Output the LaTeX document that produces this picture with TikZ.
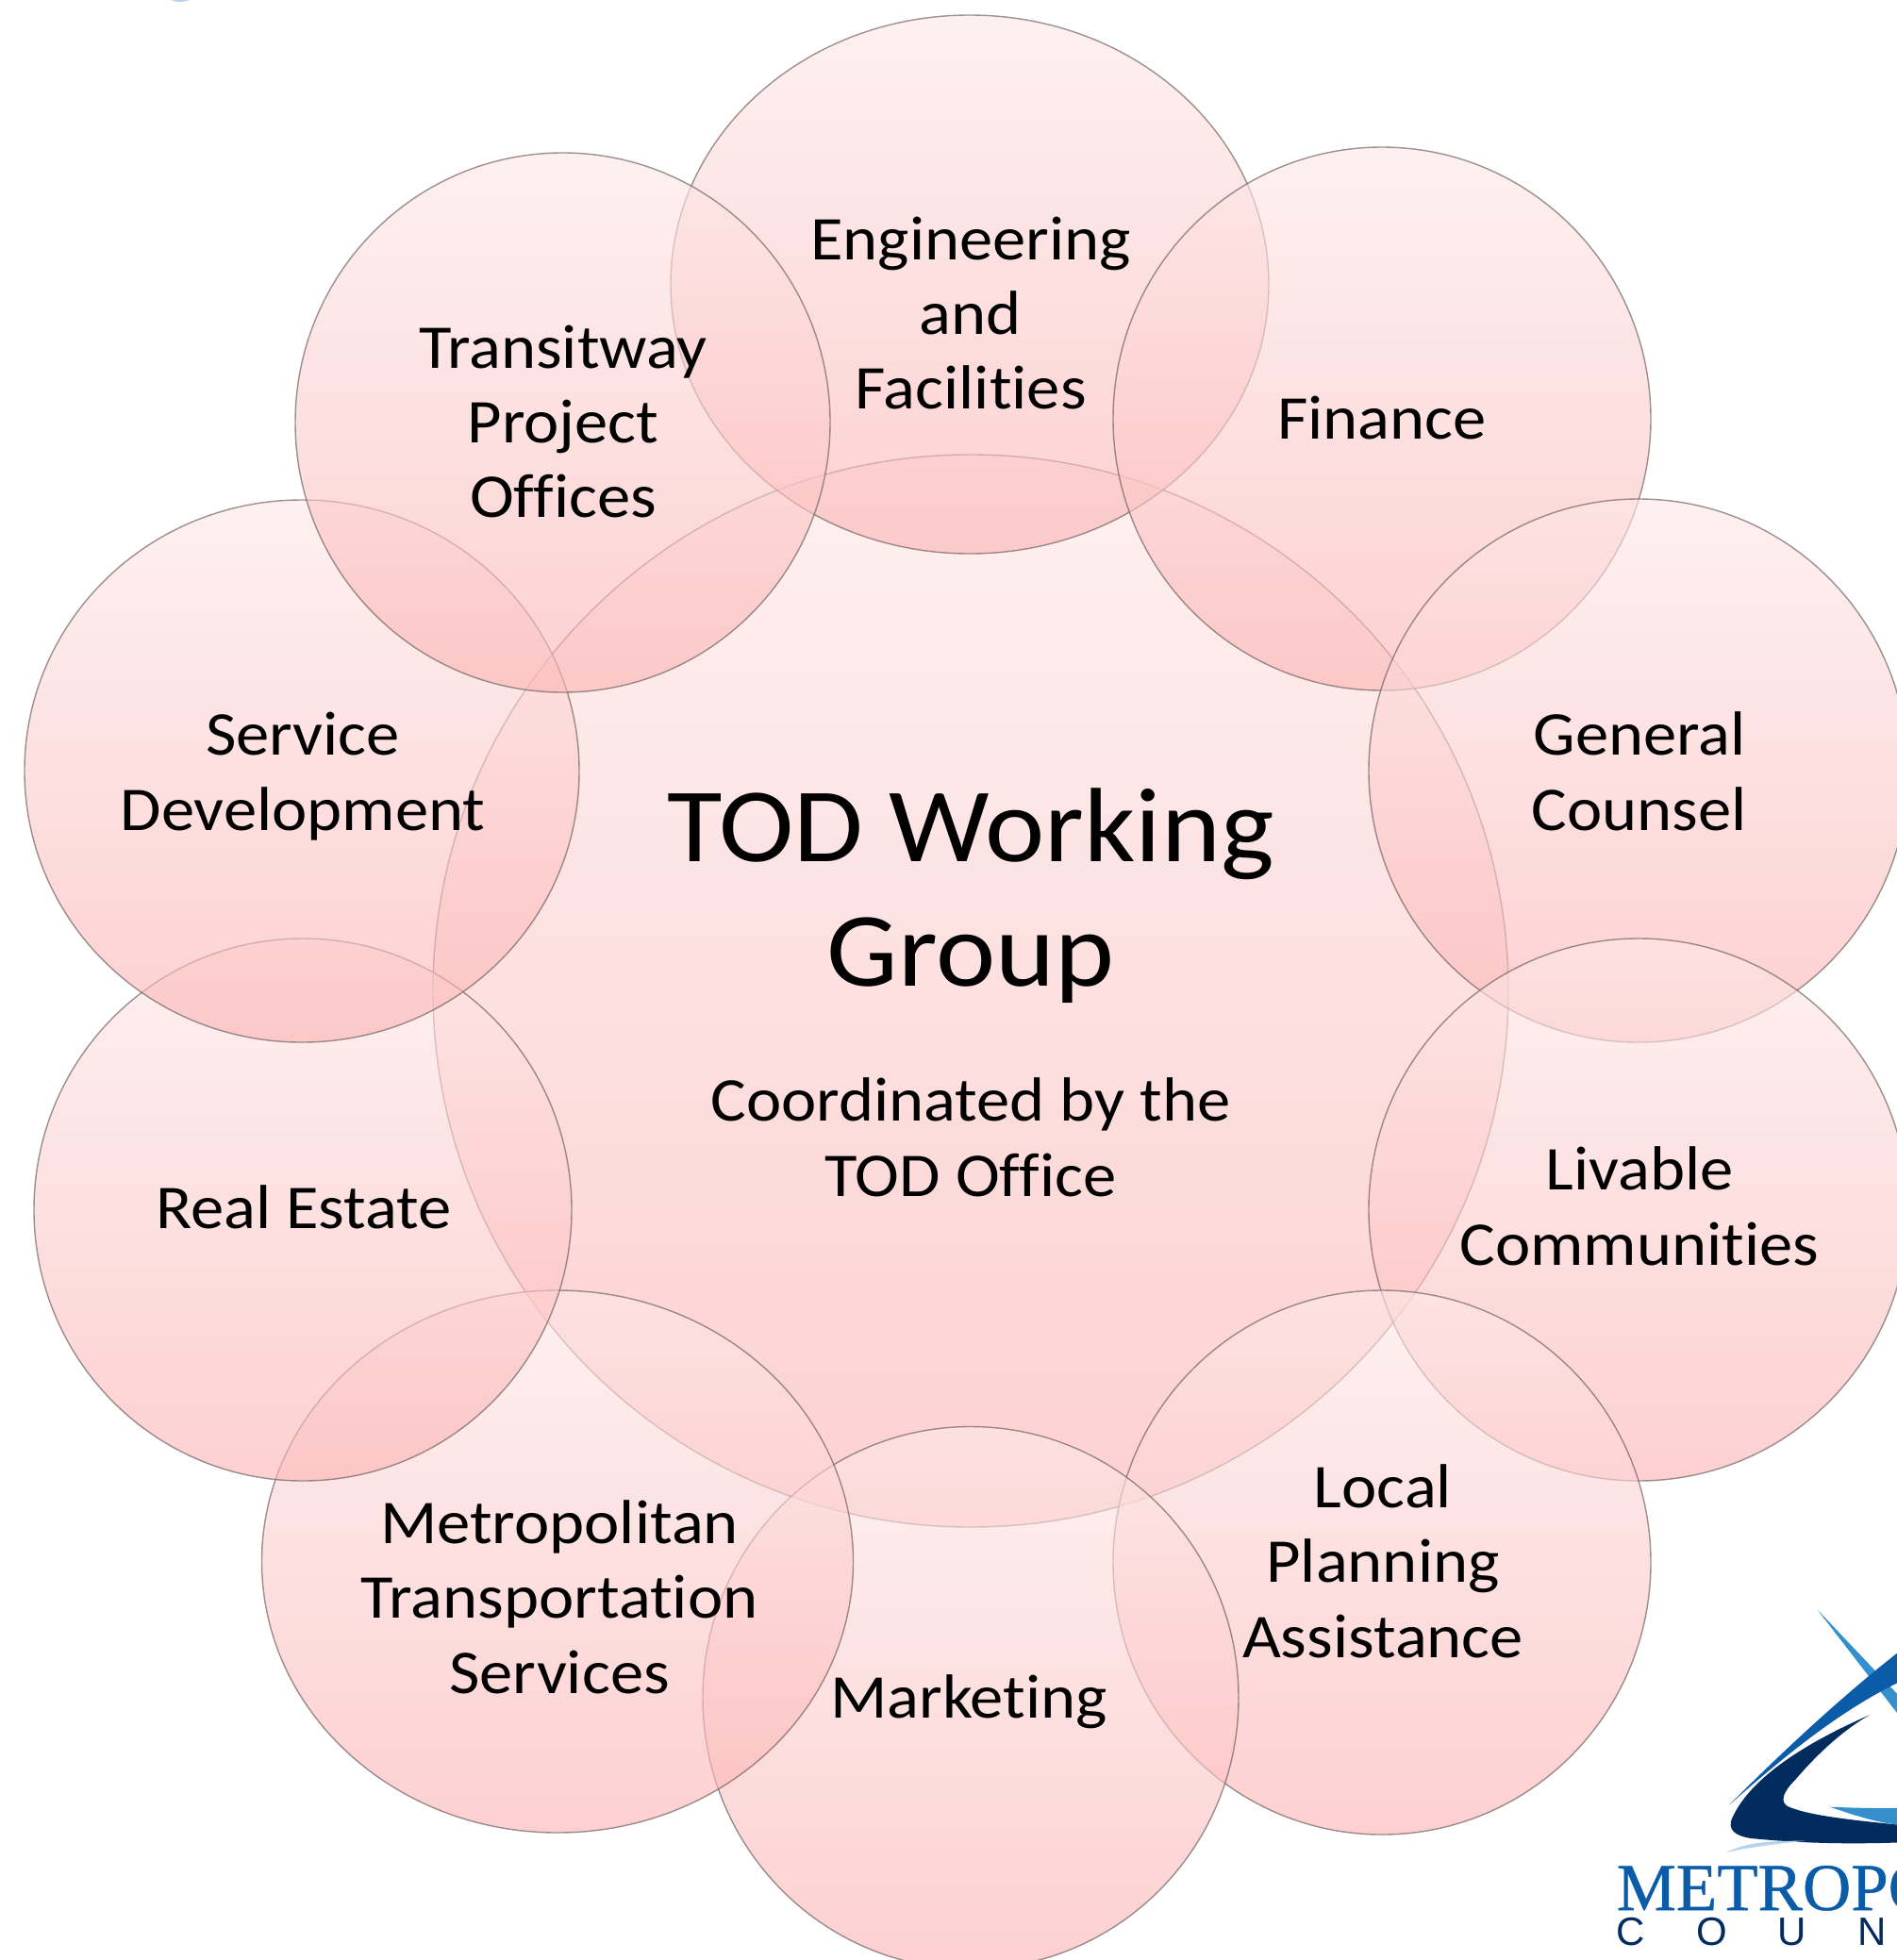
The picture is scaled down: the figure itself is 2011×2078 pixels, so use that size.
\documentclass[tikz,border=0pt]{standalone}
\usepackage{fontspec}
\setmainfont{Carlito}[Ligatures=NoCommon,FakeStretch=1.07]
\newfontfamily\logoserif[FakeBold=0.6]{Liberation Serif}
\newfontfamily\logosans{Liberation Sans}
\usetikzlibrary{shapes.geometric}
\definecolor{edgegray}{RGB}{105,90,90}
\definecolor{pinktop}{RGB}{254,232,232}
\definecolor{pinkbot}{RGB}{252,180,180}
\definecolor{logoblue}{RGB}{10,92,168}
\definecolor{logonavy}{RGB}{2,43,94}
\definecolor{logomid}{RGB}{51,144,204}
\definecolor{logopale}{RGB}{181,213,238}
\tikzset{
  bub/.style={ellipse,inner sep=0pt,outer sep=0pt,top color=pinktop,bottom color=pinkbot,
    fill opacity=.62,draw=edgegray,draw opacity=.65,line width=.7pt},
  lab/.style={align=center,inner sep=0pt,text=black,font=\fontsize{33}{39.7}\selectfont},
  bigl/.style={align=center,inner sep=0pt,text=black,font=\fontsize{56}{66}\selectfont},
  midl/.style={align=center,inner sep=0pt,text=black,font=\fontsize{33}{40}\selectfont},
}
\begin{document}
\begin{tikzpicture}[x=.5pt,y=-.5pt]
\useasboundingbox (0,0) rectangle (2011,2078);
\clip (0,0) rectangle (2011,2078);
\fill[white] (0,0) rectangle (2011,2078);
\fill[logopale] (191,-3) ellipse [x radius=12,y radius=5];
\node[bub,minimum width=570pt,minimum height=568.5pt] (hub) at (1029,1050.5) {};
\node[bub,minimum width=317pt,minimum height=285.5pt] (eng) at (1028,301.5) {};
\node[bub,minimum width=285pt,minimum height=288pt] (fin) at (1465,444) {};
\node[bub,minimum width=286pt,minimum height=288pt] (gen) at (1737,817) {};
\node[bub,minimum width=286pt,minimum height=287.5pt] (liv) at (1737,1282.5) {};
\node[bub,minimum width=285pt,minimum height=288.5pt] (loc) at (1465,1656.5) {};
\node[bub,minimum width=284pt,minimum height=287.5pt] (mkt) at (1029,1800) {};
\node[bub,minimum width=313.5pt,minimum height=287.5pt] (met) at (591,1655.5) {};
\node[bub,minimum width=285pt,minimum height=287.5pt] (rea) at (321,1282.5) {};
\node[bub,minimum width=294pt,minimum height=287.5pt] (svc) at (320,817.5) {};
\node[bub,minimum width=283.5pt,minimum height=286pt] (tra) at (596.5,448) {};
\node[lab] (tEng) at (1029,332) {Engineering\\and\\Facilities};
\node[lab] (tFin) at (1465,443) {Finance};
\node[lab] (tGen) at (1738,818) {General\\Counsel};
\node[lab] (tLiv) at (1738,1279) {Livable\\Communities};
\node[lab] (tLoc) at (1466,1655) {Local\\Planning\\Assistance};
\node[lab] (tMkt) at (1027,1804) {Marketing};
\node[lab] (tMet) at (593,1693) {Metropolitan\\Transportation\\Services};
\node[lab] (tRea) at (322,1280) {Real Estate};
\node[lab] (tSvc) at (321,823) {Service\\Development};
\node[lab] (tTra) at (597,447) {Transitway\\Project\\Offices};
\node[bigl] (tHub) at (1029,950) {TOD Working\\Group};
\node[midl] (tCoord) at (1029,1206) {Coordinated by the\\TOD Office};
\begin{scope}[shift={(1650,1650)},x=.16667pt,y=-.16667pt]
\fill[logomid] (830,170) -- (1100,455) -- (1100,520) -- cycle;
\fill[logoblue] (550,790) .. controls (700,640) and (900,450) .. (1100,295) -- (1100,395) .. controls (900,490) and (720,640) .. cycle;
\fill[logonavy] (995,505) .. controls (800,590) and (620,700) .. (560,830) .. controls (540,870) and (570,890) .. (620,897) .. controls (800,915) and (950,915) .. (1100,910) -- (1100,855) .. controls (950,840) and (800,825) .. (735,795) .. controls (710,780) and (720,750) .. (760,710) .. controls (820,640) and (900,560) .. cycle;
\fill[logomid] (870,797) .. controls (950,800) and (1030,803) .. (1100,800) -- (1100,855) .. controls (1030,850) and (950,825) .. cycle;
\fill[logopale] (540,942) .. controls (610,905) and (700,905) .. (790,905) .. controls (700,915) and (610,925) .. cycle;
\node[anchor=base west,inner sep=0pt,text=logoblue,font=\logoserif\fontsize{35.5}{36}\selectfont] (logoA) at (190,1125) {METROPO};
\node[anchor=base west,inner sep=0pt,text=logonavy,font=\logosans\fontsize{21}{22}\selectfont] (logoB) at (190,1238) {C\hspace{27pt}O\hspace{27pt}U\hspace{27pt}N};
\end{scope}
\end{tikzpicture}
\end{document}
